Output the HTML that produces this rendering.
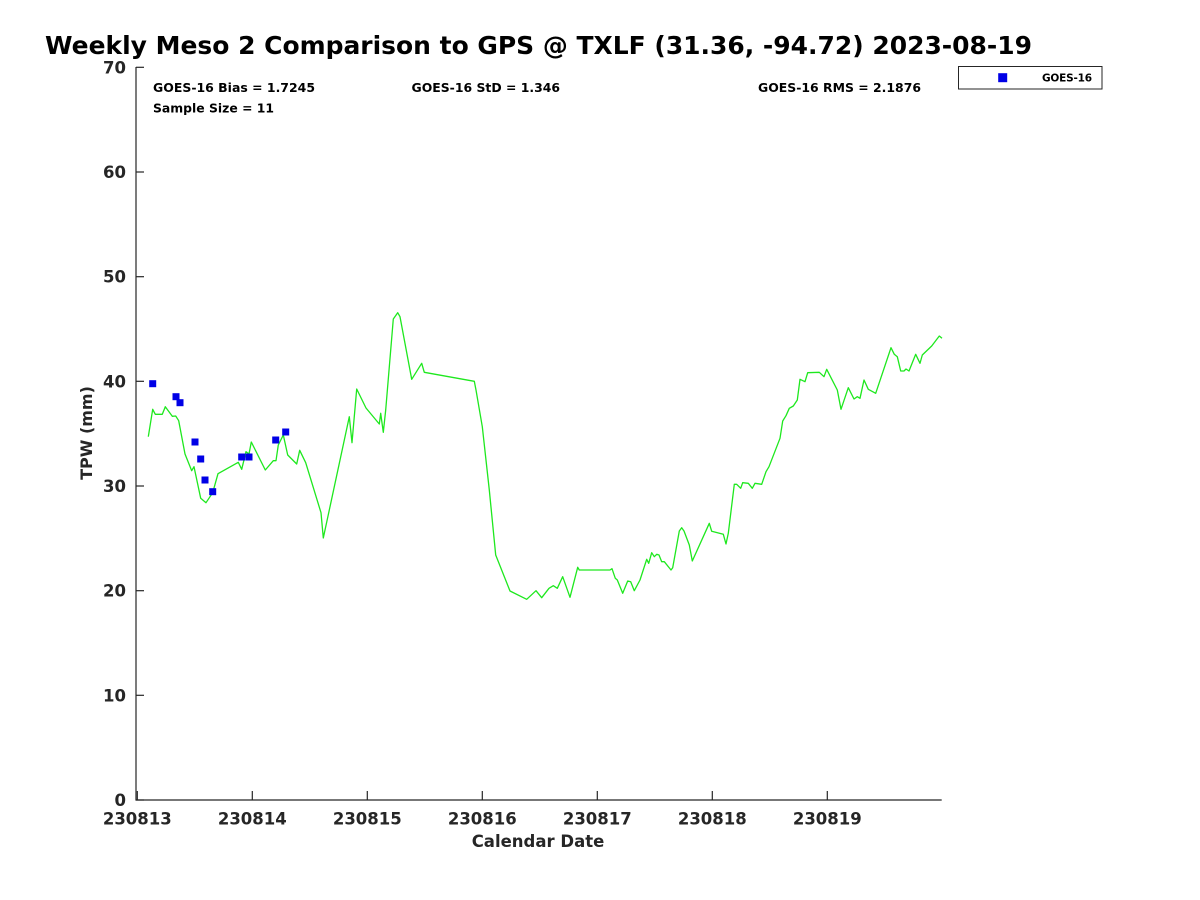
<!DOCTYPE html>
<html>
<head>
<meta charset="utf-8">
<style>
html,body{margin:0;padding:0;background:#fff;}
svg{display:block;}
text{font-family:"DejaVu Sans","Liberation Sans",sans-serif;font-weight:bold;}
</style>
</head>
<body>
<svg width="1200" height="900" viewBox="0 0 1200 900" xmlns="http://www.w3.org/2000/svg">
<rect x="0" y="0" width="1200" height="900" fill="#fff"/>
<!-- title -->
<text x="45" y="54" font-size="25" fill="#000" textLength="987" lengthAdjust="spacingAndGlyphs">Weekly Meso 2 Comparison to GPS @ TXLF (31.36, -94.72) 2023-08-19</text>

<!-- axes -->
<g stroke="#262626" stroke-width="1.2" fill="none">
<line x1="136" y1="67" x2="136" y2="800.5"/>
<line x1="135.5" y1="800" x2="941.7" y2="800"/>
<!-- y ticks -->
<line x1="136" y1="800" x2="144" y2="800"/>
<line x1="136" y1="695.3" x2="144" y2="695.3"/>
<line x1="136" y1="590.7" x2="144" y2="590.7"/>
<line x1="136" y1="486" x2="144" y2="486"/>
<line x1="136" y1="381.3" x2="144" y2="381.3"/>
<line x1="136" y1="276.7" x2="144" y2="276.7"/>
<line x1="136" y1="172" x2="144" y2="172"/>
<line x1="136" y1="67.3" x2="144" y2="67.3"/>
<!-- x ticks -->
<line x1="137.3" y1="800" x2="137.3" y2="791"/>
<line x1="252.3" y1="800" x2="252.3" y2="791"/>
<line x1="367.3" y1="800" x2="367.3" y2="791"/>
<line x1="482.3" y1="800" x2="482.3" y2="791"/>
<line x1="597.3" y1="800" x2="597.3" y2="791"/>
<line x1="712.3" y1="800" x2="712.3" y2="791"/>
<line x1="827.3" y1="800" x2="827.3" y2="791"/>
</g>

<!-- y tick labels -->
<g font-size="16.5" fill="#262626" text-anchor="end">
<text x="126" y="806">0</text>
<text x="126" y="701.3">10</text>
<text x="126" y="596.7">20</text>
<text x="126" y="492">30</text>
<text x="126" y="387.3">40</text>
<text x="126" y="282.7">50</text>
<text x="126" y="178">60</text>
<text x="126" y="73.3">70</text>
</g>
<!-- x tick labels -->
<g font-size="16.5" fill="#262626" text-anchor="middle">
<text x="137.3" y="824.5">230813</text>
<text x="252.3" y="824.5">230814</text>
<text x="367.3" y="824.5">230815</text>
<text x="482.3" y="824.5">230816</text>
<text x="597.3" y="824.5">230817</text>
<text x="712.3" y="824.5">230818</text>
<text x="827.3" y="824.5">230819</text>
</g>

<!-- axis labels -->
<text x="538" y="847" font-size="16.5" fill="#262626" text-anchor="middle">Calendar Date</text>
<text transform="translate(92,433) rotate(-90)" font-size="16" fill="#262626" text-anchor="middle">TPW (mm)</text>

<!-- stats -->
<g font-size="12.5" fill="#000">
<text x="153" y="92" textLength="162" lengthAdjust="spacingAndGlyphs">GOES-16 Bias = 1.7245</text>
<text x="153" y="112.5" textLength="121" lengthAdjust="spacingAndGlyphs">Sample Size = 11</text>
<text x="411.5" y="92" textLength="148.5" lengthAdjust="spacingAndGlyphs">GOES-16 StD = 1.346</text>
<text x="758" y="92" textLength="163" lengthAdjust="spacingAndGlyphs">GOES-16 RMS = 2.1876</text>
</g>

<!-- GPS line -->
<polyline fill="none" stroke="#1ee81e" stroke-width="1.3" stroke-linejoin="round" points="
148.3,436.7 152.7,409.3 155.3,414.3 162.3,414.3 165.3,406.7 172.3,416.3 175.7,416 178.7,420.7 185,454 191.7,470.7 194,466.7 200.7,498.3 206,502.7 212.7,492.7 218,473.7 238.3,462.3 241.7,469.3 246,451.7 249,454 251.3,442 265.3,470 273.3,460.7 276,460.7 278.3,445 283.3,435 287.7,455 296.7,464 299.7,450.3 305.7,462.7 321,512.7 323.3,538 349.3,416.7 352,442.7 356.7,389 366,408 379.3,424 380.7,413.3 383.3,432.3 385.7,410 393.3,319 397.7,312.7 400,316.7 411.7,379.3 421.7,363.3 424.3,372.3 474.3,381.3 476,390 482.3,426.7 489.3,490 495.7,555 510,591 526.7,599.3 536,590.7 541.7,597.7 549,588.3 553.3,585.7 557.3,588.3 562.7,576.7 570,597.3 577.7,567.3 579.3,570 610,570 612,568.7 615.3,578.3 617.3,580 622.7,593.3 627.7,581 630.7,581.7 634.3,590.7 640,580 646.7,559.3 648.7,563.3 651.7,552.7 654.3,556.7 656.7,554.3 659,555 661.7,561.7 664.3,561.7 671,570 672.7,567.7 679.3,531 681.7,527.7 684,531 689.3,545 692.3,561 709.3,523.3 711.7,531.3 723.3,534.3 726,544 728.3,533.3 734.3,484.3 736.7,484.3 740.7,488.3 742.7,482.7 748.3,483.3 752.3,488.3 755,483.3 761.7,484.3 766,471.7 769,466.7 780,438.3 782.7,421 786,415.7 789.3,408.3 793.3,406 797.3,400 800,379.3 805,381.7 807.7,372.7 819.3,372.3 824,376.7 826.7,369.3 837.3,390 841,409.3 848.3,387.7 854,399 857.3,396.7 860,398.3 864,380 868.3,389.3 875.7,393.3 891,347.7 894.3,354.3 897.3,356.7 900.7,371 904,371 906,369 909,371 915.7,354.3 920,363.3 922.3,355 931.7,346 939.3,336 942,338.3"/>

<!-- GOES-16 markers -->
<g fill="#0000e6">
<rect x="149.2" y="380.2" width="7" height="7"/>
<rect x="172.5" y="393.2" width="7" height="7"/>
<rect x="176.5" y="399.2" width="7" height="7"/>
<rect x="191.5" y="438.5" width="7" height="7"/>
<rect x="197.2" y="455.5" width="7" height="7"/>
<rect x="201.5" y="476.5" width="7" height="7"/>
<rect x="209.2" y="488.2" width="7" height="7"/>
<rect x="238.2" y="453.5" width="7" height="7"/>
<rect x="245.5" y="453.5" width="7" height="7"/>
<rect x="272.2" y="436.5" width="7" height="7"/>
<rect x="282.2" y="428.5" width="7" height="7"/>
</g>

<!-- legend -->
<rect x="958.5" y="66.5" width="143.5" height="22.5" fill="#fff" stroke="#262626" stroke-width="1"/>
<rect x="998.2" y="73.2" width="9" height="9" fill="#0000e6"/>
<text x="1042" y="81.7" font-size="10.5" fill="#000" textLength="50" lengthAdjust="spacing">GOES-16</text>
</svg>
</body>
</html>
